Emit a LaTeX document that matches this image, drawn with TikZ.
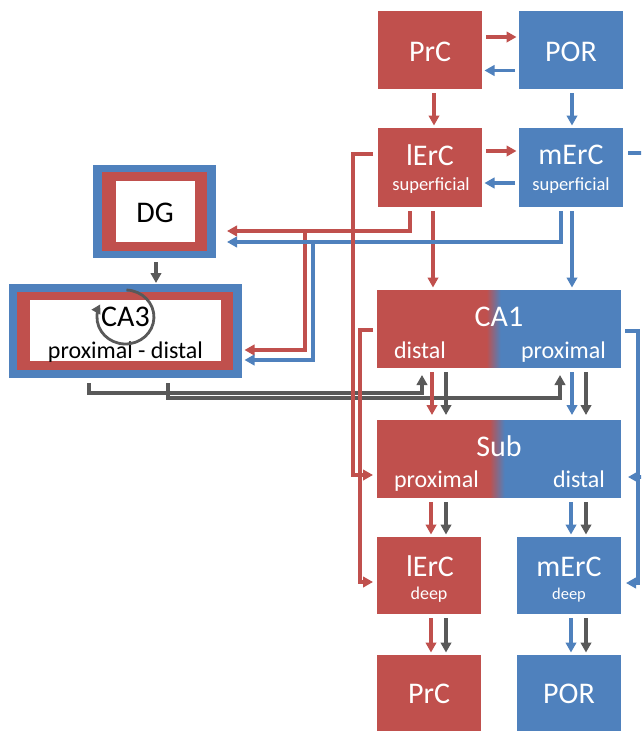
\documentclass[tikz,border=0pt]{standalone}
\usepackage{fontspec}
\setmainfont{Carlito}
\usetikzlibrary{arrows.meta,calc}
\definecolor{cred}{HTML}{C0504D}
\definecolor{cblue}{HTML}{4F81BD}
\definecolor{cgray}{HTML}{595959}
\newcommand\fbig{\fontsize{30}{32}\selectfont}
\newcommand\fmid{\fontsize{24}{26}\selectfont}
\newcommand\fsma{\fontsize{18.5}{20}\selectfont}
\newcommand\fdeep{\fontsize{18}{20}\selectfont}
\newcommand\fdeepb{\fontsize{16.5}{18}\selectfont}
\begin{document}
\begin{tikzpicture}[x=1pt,y=-1pt,
  box/.style={draw=none, inner sep=0pt, outer sep=0pt, minimum width=104pt},
  redbox/.style={box, fill=cred},
  bluebox/.style={box, fill=cblue},
  gradbox/.style={box, minimum width=244pt, minimum height=78pt},
  wt/.style={inner sep=0pt, text=white},
  bt/.style={inner sep=0pt, text=black},
  conn/.style={line width=3.1pt, -{Triangle[length=10pt,width=10.5pt]}, shorten <=4pt, shorten >=2.5pt},
  rarr/.style={conn, draw=cred},
  barr/.style={conn, draw=cblue},
  garr/.style={conn, draw=cgray},
  gcirc/.style={draw=cgray, line width=2.8pt, -{Triangle[length=9pt,width=9.5pt]}}
]
\useasboundingbox (0,0) rectangle (641,731);
\clip (0,0) rectangle (641,731);
\fill[white] (0,0) rectangle (641,731);

% ---------- boxes ----------
\node[redbox, minimum height=78pt] (prc1) at (430,50) {};
\node[bluebox, minimum height=78pt] (por1) at (571,50) {};
\node[redbox, minimum height=79pt] (lecs) at (430,167.5) {};
\node[bluebox, minimum height=79pt] (mecs) at (571,167.5) {};
% CA1 and Sub with red-blue transition (drawn as thin strips)
\fill[cred] (377,290) rectangle (487.5,368);
\fill[cblue] (500.5,290) rectangle (621,368);
\foreach \i in {0,...,13} {
  \pgfmathsetmacro\pp{100*(\i+0.5)/14}
  \fill[cblue!\pp!cred] (487+\i,290) rectangle (488.3+\i,368);
}
\fill[cred] (377,420) rectangle (490.5,498);
\fill[cblue] (504.5,420) rectangle (621,498);
\foreach \i in {0,...,14} {
  \pgfmathsetmacro\pp{100*(\i+0.5)/15}
  \fill[cblue!\pp!cred] (490+\i,420) rectangle (491.3+\i,498);
}
\node[gradbox] (ca1) at (499,329) {};
\node[gradbox] (sub) at (499,459) {};
\node[redbox, minimum height=77pt] (lecd) at (429,575.5) {};
\node[bluebox, minimum height=77pt] (mecd) at (569,575.5) {};
\node[redbox, minimum height=90pt] (prc2) at (429,700) {};
\node[bluebox, minimum height=90pt] (por2) at (569,700) {};

% DG and CA3 framed boxes
\node[box, fill=cblue, minimum width=123pt, minimum height=93pt] (dgo) at (154.5,211.5) {};
\node[box, fill=cred, minimum width=105pt, minimum height=79pt] (dgr) at (154.5,211.5) {};
\node[box, fill=white, minimum width=79pt, minimum height=61pt] (dgw) at (155.5,211.5) {};
\node[box, fill=cblue, minimum width=233pt, minimum height=94pt] (ca3o) at (125.5,331) {};
\node[box, fill=cred, minimum width=216pt, minimum height=78pt] (ca3r) at (125,331) {};
\node[box, fill=white, minimum width=191pt, minimum height=61pt] (ca3w) at (125.5,330.5) {};

% ---------- texts ----------
\node[wt] (prc1T) at (430,52) {\fbig PrC};
\node[wt] (por1T) at (571,52) {\fbig POR};
\node[wt] (lecsT) at (430,155) {\fbig lErC};
\node[wt] (lecsS) at (431,186) {\fsma superficial};
\node[wt] (mecsT) at (571,155) {\fbig mErC};
\node[wt] (mecsS) at (571,186) {\fsma superficial};
\node[wt] (ca1T) at (499,317) {\fbig CA1};
\node[wt] (ca1L) at (420,350) {\fmid distal};
\node[wt] (ca1R) at (563.5,352) {\fmid proximal};
\node[wt] (subT) at (499,446) {\fbig Sub};
\node[wt] (subL) at (436.5,481) {\fmid proximal};
\node[wt] (subR) at (579,479) {\fmid distal};
\node[wt] (lecdT) at (430,566) {\fbig lErC};
\node[wt] (lecdS) at (429,595) {\fdeep deep};
\node[wt] (mecdT) at (569,567) {\fbig mErC};
\node[wt] (mecdS) at (569,595) {\fdeepb deep};
\node[wt] (prc2T) at (429,694) {\fbig PrC};
\node[wt] (por2T) at (569,694) {\fbig POR};
\node[bt] (dgT) at (155,213) {\fbig DG};
\node[bt] (ca3T) at (125.5,317) {\fbig CA3};
\node[bt] (ca3S) at (125.5,352) {\fmid proximal - distal};

% recurrent CA3 arrow
\draw[gcirc] ([shift={(88:27pt)}]ca3T.center) arc[start angle=88, end angle=-208, x radius=28.5pt, y radius=27pt];

% ---------- connectors ----------
% PrC <-> POR
\draw[rarr] ([yshift=13pt]prc1.east) -- ([yshift=13pt]por1.west);
\draw[barr] ([yshift=-20.5pt]por1.west) -- ([yshift=-20.5pt]prc1.east);
% down to superficial EC
\draw[rarr] ([xshift=4pt]prc1.south) -- ([xshift=4pt]lecs.north);
\draw[barr] ([xshift=1pt]por1.south) -- ([xshift=1pt]mecs.north);
% lErC <-> mErC
\draw[rarr] ([yshift=16.5pt]lecs.east) -- ([yshift=16.5pt]mecs.west);
\draw[barr] ([yshift=-15.5pt]mecs.west) -- ([yshift=-15.5pt]lecs.east);
% superficial EC -> CA1
\draw[rarr] ([xshift=3pt]lecs.south) -- ([xshift=3pt]lecs.south |- ca1.north);
\draw[barr] ([xshift=1pt]mecs.south) -- ([xshift=1pt]mecs.south |- ca1.north);
% superficial EC -> DG and CA3
\coordinate (rj) at (305,231);
\coordinate (bj) at (313,242);
\draw[rarr, shorten >=11pt] ([xshift=-20pt]lecs.south) |- ([yshift=-19.5pt]dgo.east);
\draw[rarr, shorten <=0pt] (rj) |- ([yshift=-19pt]ca3o.east);
\draw[barr, shorten >=11pt] ([xshift=-10pt]mecs.south) |- ([yshift=-30.5pt]dgo.east);
\draw[barr, shorten <=0pt] (bj) |- ([yshift=-29pt]ca3o.east);
% DG -> CA3
\draw[garr, shorten >=1pt] ([xshift=1.5pt]dgo.south) -- ([xshift=1.5pt]dgo.south |- ca3o.north);
% CA3 -> CA1
\draw[garr, shorten <=5pt, shorten >=7pt] ([xshift=-36.5pt]ca3o.south) -- ++(0,15) -| ([xshift=-77pt]ca1.south);
\draw[garr, shorten <=5pt, shorten >=7pt] ([xshift=42.5pt]ca3o.south) -- ++(0,20) -| ([xshift=61pt]ca1.south);
% lErC sup -> Sub, CA1 -> lErC deep (left side)
\draw[rarr, shorten <=5pt, shorten >=4pt] ([yshift=13.5pt]lecs.west) -- ++(-25,0) |- ([yshift=-16pt]sub.west);
\draw[rarr, shorten >=4pt] ([yshift=-1pt]ca1.west) -- ++(-17,0) |- ([yshift=-6.5pt]lecd.west);
% mErC sup -> Sub, CA1 -> mErC deep (right side)
\draw[barr, shorten <=5pt, shorten >=7pt] ([yshift=14.5pt]mecs.east) -- ++(27,0) |- ([yshift=-18pt]sub.east);
\draw[barr, shorten >=5pt] ([yshift=-2pt]ca1.east) -- ++(17,0) |- ([yshift=-7.5pt]mecd.east);
% CA1 -> Sub
\draw[rarr, shorten >=5pt] ([xshift=-67pt]ca1.south) -- ([xshift=-67pt]sub.north);
\draw[garr, shorten >=5pt] ([xshift=-53pt]ca1.south) -- ([xshift=-53pt]sub.north);
\draw[barr, shorten >=5pt] ([xshift=73pt]ca1.south) -- ([xshift=73pt]sub.north);
\draw[garr, shorten >=5pt] ([xshift=87pt]ca1.south) -- ([xshift=87pt]sub.north);
% Sub -> deep EC
\draw[rarr] ([xshift=2pt]lecd.north |- sub.south) -- ([xshift=2pt]lecd.north);
\draw[garr] ([xshift=17pt]lecd.north |- sub.south) -- ([xshift=17pt]lecd.north);
\draw[barr] ([xshift=2pt]mecd.north |- sub.south) -- ([xshift=2pt]mecd.north);
\draw[garr] ([xshift=17pt]mecd.north |- sub.south) -- ([xshift=17pt]mecd.north);
% deep EC -> PrC / POR
\draw[rarr] ([xshift=2pt]lecd.south) -- ([xshift=2pt]prc2.north);
\draw[garr] ([xshift=17pt]lecd.south) -- ([xshift=17pt]prc2.north);
\draw[barr] ([xshift=2pt]mecd.south) -- ([xshift=2pt]por2.north);
\draw[garr] ([xshift=17pt]mecd.south) -- ([xshift=17pt]por2.north);
\end{tikzpicture}
\end{document}
